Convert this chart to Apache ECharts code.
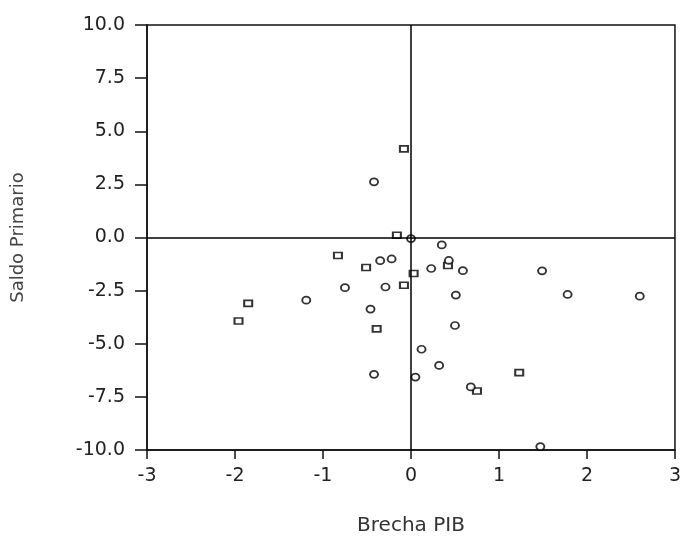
<!DOCTYPE html>
<html>
<head>
<meta charset="utf-8">
<script src="https://cdn.jsdelivr.net/npm/echarts@6/dist/echarts.min.js"></script>
<style>
  html, body { margin: 0; padding: 0; background: #fff; }
  #chart { width: 684px; height: 541px; }
</style>
</head>
<body>
<div id="chart"></div>
<script>
// puntos: [brecha PIB, saldo primario]
var squarePts = [
    [-0.08, 4.17], [-0.83, -0.85], [-0.51, -1.41], [0.03, -1.69], [-0.08, -2.25],
    [-1.85, -3.10], [-1.96, -3.93], [-0.39, -4.30], [1.23, -6.36], [0.75, -7.22],
    [0.42, -1.32], [-0.16, 0.11]
];
var circlePts = [
    [-0.42, 2.62], [0.0, -0.05], [0.35, -0.35], [-0.35, -1.09], [-0.22, -1.01],
    [0.43, -1.08], [0.23, -1.46], [0.59, -1.56], [1.49, -1.57], [-0.75, -2.36],
    [-0.29, -2.33], [0.51, -2.71], [1.78, -2.68], [2.60, -2.76], [-1.19, -2.95],
    [-0.46, -3.37], [0.50, -4.14], [0.12, -5.26], [0.32, -6.02], [-0.42, -6.44],
    [0.05, -6.57], [0.68, -7.03], [1.47, -9.84]
];
var xTicks = [-3, 3, 1];
var yTicks = [-10, 10, 2.5];

var myChart = echarts.init(document.getElementById("chart"));
var font = "DejaVu Sans";
var option = {
    animation: false,
    grid: {
        left: 147, right: 4, top: 25, bottom: 88,
        show: true, borderColor: '#111', borderWidth: 1.5,
        containLabel: false
    },
    xAxis: {
        type: 'value',
        min: xTicks[0], max: xTicks[1], interval: xTicks[2],
        name: 'Brecha PIB',
        nameLocation: 'middle',
        nameGap: 66,
        nameTextStyle: {fontFamily: font, fontSize: 20, color: '#333'},
        axisLine: {show: true, onZero: false, lineStyle: {color: '#111', width: 1.5}},
        axisTick: {show: true, length: 9, lineStyle: {color: '#111', width: 1.5}},
        axisLabel: {fontFamily: font, fontSize: 19, color: '#222', margin: 17},
        splitLine: {show: false}
    },
    yAxis: {
        type: 'value',
        min: yTicks[0], max: yTicks[1], interval: yTicks[2],
        name: 'Saldo Primario',
        nameLocation: 'middle',
        nameGap: 120,
        nameTextStyle: {fontFamily: font, fontSize: 18, color: '#444'},
        axisLine: {show: true, onZero: false, lineStyle: {color: '#111', width: 1.5}},
        axisTick: {show: true, length: 12, lineStyle: {color: '#111', width: 1.5}},
        axisLabel: {
            fontFamily: font, fontSize: 19, color: '#222', margin: 22,
            formatter: function (v) { return v.toFixed(1); }
        },
        splitLine: {show: false}
    },
    series: [
        {
            type: 'scatter',
            data: squarePts,
            symbol: 'rect',
            symbolSize: [8, 6],
            itemStyle: {color: '#fff', borderColor: '#000', borderWidth: 1.8},
            markLine: {
                silent: true,
                symbol: 'none',
                label: {show: false},
                lineStyle: {color: '#000', type: 'solid', width: 1.5},
                data: [{xAxis: 0}, {yAxis: 0}]
            }
        },
        {
            type: 'scatter',
            data: circlePts,
            symbol: 'circle',
            symbolSize: [8, 7],
            itemStyle: {color: '#fff', borderColor: '#000', borderWidth: 1.8}
        }
    ]
};
myChart.setOption(option);
</script>
</body>
</html>
